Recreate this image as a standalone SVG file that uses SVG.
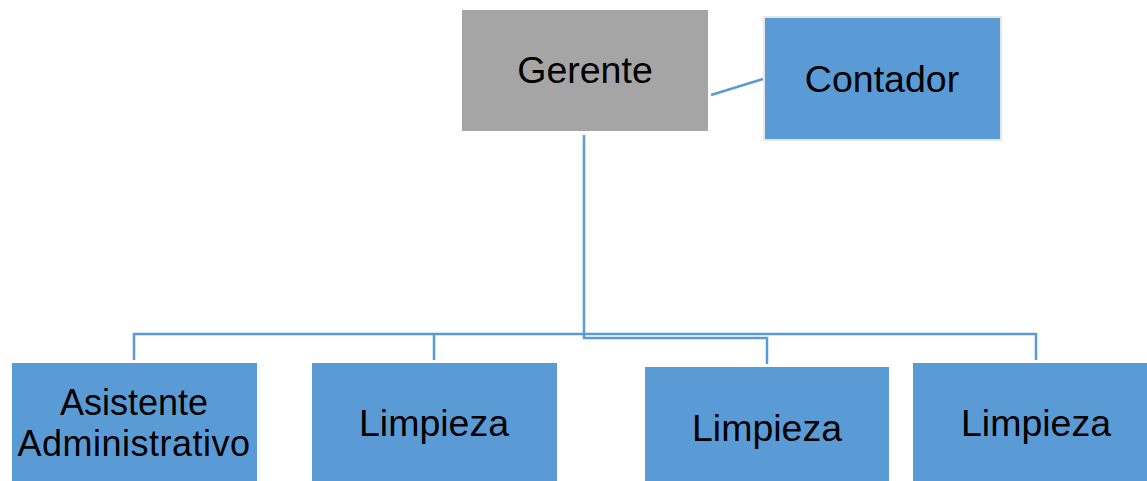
<svg xmlns="http://www.w3.org/2000/svg" width="1147" height="481" viewBox="0 0 1147 481">
<style>
.box{fill:#5B9BD5;}
.lbl{font-family:"Liberation Sans",Arial,sans-serif;font-size:37.5px;fill:#000;text-anchor:middle;}
.con{fill:none;stroke:#5B9BD5;stroke-width:2.5;}
</style>
<rect width="1147" height="481" fill="#fff"/>
<g id="connectors">
<line class="con" x1="711" y1="95" x2="763" y2="79"/>
<polyline class="con" points="584,135 584,338 767,338 767,364"/>
<polyline class="con" points="134,360 134,334 1036,334 1036,360"/>
<line class="con" x1="434" y1="334" x2="434" y2="360"/>
</g>
<g id="gerente">
<rect x="462" y="10" width="246" height="121" fill="#A5A5A5"/>
<text class="lbl" x="585" y="83">Gerente</text>
</g>
<g id="contador">
<rect x="764" y="17" width="237" height="123" class="box" stroke="#E6E6E6" stroke-width="2"/>
<text class="lbl" x="882" y="92">Contador</text>
</g>
<g id="asistente">
<rect x="12" y="363" width="245" height="120" class="box"/>
<text class="lbl" x="134" y="415" style="font-size:36px">Asistente</text>
<text class="lbl" x="134" y="456" style="font-size:36px;letter-spacing:0.5px">Administrativo</text>
</g>
<g id="limpieza1">
<rect x="312" y="363" width="245" height="120" class="box"/>
<text class="lbl" x="434" y="436">Limpieza</text>
</g>
<g id="limpieza2">
<rect x="645" y="367" width="244" height="116" class="box"/>
<text class="lbl" x="767" y="441">Limpieza</text>
</g>
<g id="limpieza3">
<rect x="913" y="363" width="236" height="120" class="box"/>
<text class="lbl" x="1036" y="436">Limpieza</text>
</g>
</svg>
